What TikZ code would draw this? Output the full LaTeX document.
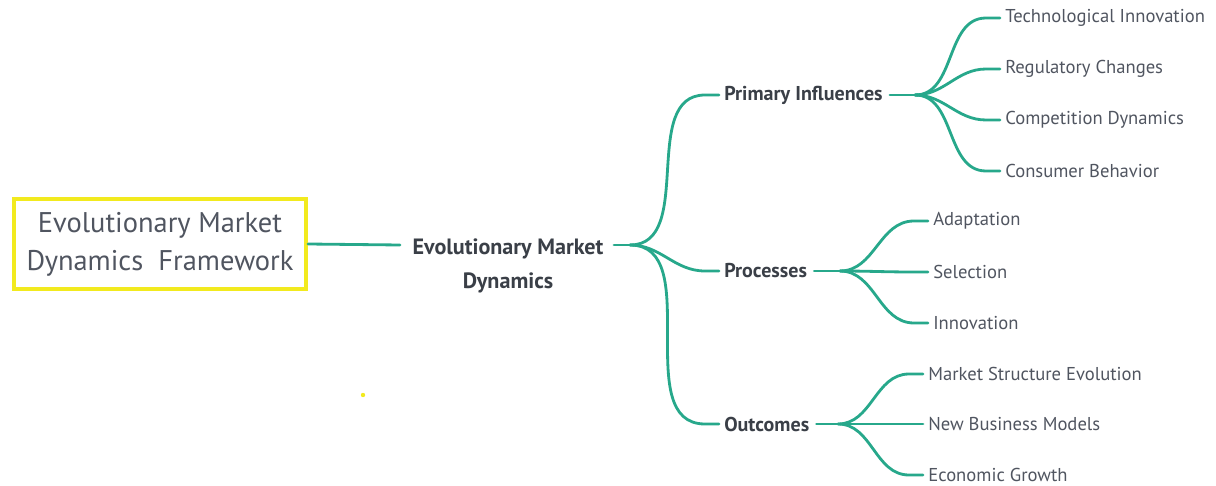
\documentclass[tikz,border=0pt]{standalone}
\usepackage{fontspec}
\setmainfont{PT Sans}
\usetikzlibrary{calc}
\definecolor{teal1}{HTML}{27A88B}
\definecolor{txtdark}{HTML}{3A3F47}
\definecolor{txtleaf}{HTML}{505560}
\definecolor{ybox}{HTML}{F2EA1E}
\tikzset{
  edge/.style={draw=teal1,line width=1.6pt,line cap=round},
  rootbox/.style={draw=ybox,line width=2.2pt,minimum width=292*0.02cm,minimum height=90*0.02cm,
     align=center,font=\fontsize{16.2}{21.5}\selectfont,text=txtleaf,inner sep=0pt},
  midnode/.style={font=\fontsize{12.6}{19.3}\selectfont\bfseries,text=txtdark,align=center,inner sep=0pt},
  branch/.style={anchor=west,font=\fontsize{11.4}{13}\selectfont\bfseries,text=txtdark,inner xsep=2.8pt,inner ysep=0pt},
  leaf/.style={anchor=west,font=\fontsize{10.6}{12}\selectfont,text=txtleaf,inner xsep=2.8pt,inner ysep=0pt},
}
\begin{document}
\begin{tikzpicture}[x=0.02cm,y=-0.02cm]
\useasboundingbox (0,0) rectangle (1216,486);
% root
\node[rootbox] (root) at (160,244) {Evolutionary Market\\Dynamics\ \ Framework};
\node[midnode] (mid) at (508,266) {Evolutionary Market\\Dynamics};
\fill[ybox] (363,395) circle (2.2);
% branches
\node[branch] (pi) at (719,95) {Primary Influences};
\node[branch] (pr) at (719,271) {Processes};
\node[branch] (oc) at (719,424) {Outcomes};
% leaves
\node[leaf] (l1) at (1000,18) {Technological Innovation};
\node[leaf] (l2) at (1000,69) {Regulatory Changes};
\node[leaf] (l3) at (1000,120) {Competition Dynamics};
\node[leaf] (l4) at (1000,171) {Consumer Behavior};
\node[leaf] (p1) at (928,221) {Adaptation};
\node[leaf] (p2) at (928,272) {Selection};
\node[leaf] (p3) at (928,323) {Innovation};
\node[leaf] (o1) at (923,374) {Market Structure Evolution};
\node[leaf] (o2) at (923,424) {New Business Models};
\node[leaf] (o3) at (923,475) {Economic Growth};
% coordinates
\coordinate (rootR) at (root.east);
\coordinate (midL) at (400,245);
\coordinate (midR) at (614,245);
\coordinate (fm) at (630,245);
\coordinate (piR) at ($(pi.east)+(2,0)$);
\coordinate (fpi) at (915,95);
\coordinate (prR) at ($(pr.east)+(2,0)$);
\coordinate (fpr) at (840,271);
\coordinate (ocR) at ($(oc.east)+(2,0)$);
\coordinate (foc) at (838,424);
% root to mid
\draw[edge] (rootR) -- (midL);
% mid to branches
\draw[edge] (midR) -- (fm);
\foreach \c in {pi,pr,oc}{
  \draw[edge] (fm) to[out=0,in=180] ($(\c.west)+(-14,0)$) -- (\c.west);
}
% branch forks
\draw[edge] (piR) -- (fpi);
\foreach \c in {l1,l2,l3,l4}{
  \draw[edge] (fpi) to[out=0,in=180] ($(\c.west)+(-14,0)$) -- (\c.west);
}
\draw[edge] (prR) -- (fpr);
\foreach \c in {p1,p2,p3}{
  \draw[edge] (fpr) to[out=0,in=180] ($(\c.west)+(-14,0)$) -- (\c.west);
}
\draw[edge] (ocR) -- (foc);
\foreach \c in {o1,o2,o3}{
  \draw[edge] (foc) to[out=0,in=180] ($(\c.west)+(-14,0)$) -- (\c.west);
}
\end{tikzpicture}
\end{document}
